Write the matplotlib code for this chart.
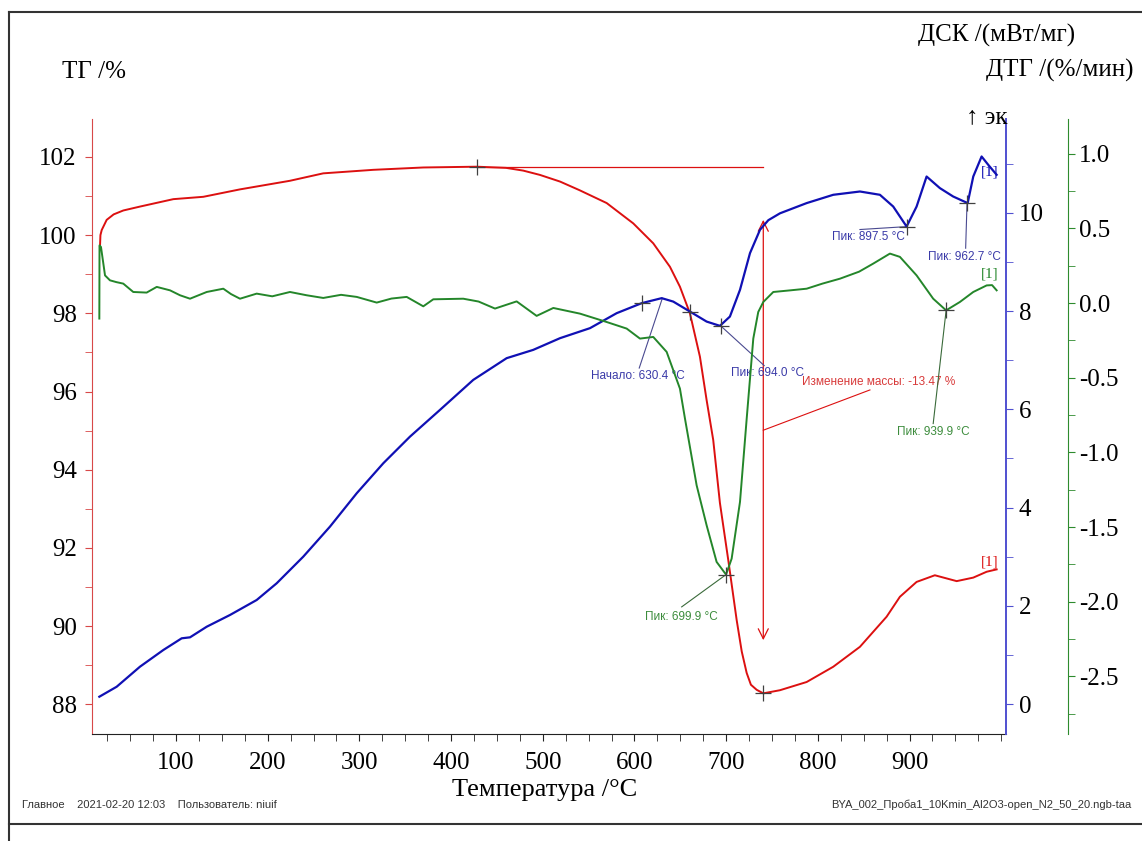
import matplotlib
matplotlib.use("Agg")
import matplotlib.pyplot as plt
from matplotlib.lines import Line2D
from matplotlib.ticker import MultipleLocator, FixedLocator, FormatStrFormatter

plt.rcParams.update({
    "axes.unicode_minus": False,
    "font.family": ["Liberation Serif", "DejaVu Serif"],
})

SERIF = ["Liberation Serif", "DejaVu Serif"]
NARROW = ["Liberation Sans Narrow", "Liberation Sans", "DejaVu Sans"]

RED = "#dc1010"
BLUE = "#1010b4"
GREEN = "#24862a"
RED_AX = "#d84848"
BLUE_AX = "#5050d0"
GREEN_AX = "#2e8b2e"

# --- TG (mass, %) ---
tg_temp = [17.1, 17.6, 19.0, 24.4, 32.0, 42.5, 60.7, 97.1, 129.8, 169.8,
           224.3, 260.6, 315.2, 369.7, 427.9, 460.0, 478.7, 496.9, 518.8,
           540.0, 569.7, 598.7, 620.5, 638.7, 649.6, 660.5, 671.4, 678.7,
           685.9, 693.2, 702.3, 711.5, 717.0, 722.4, 727.0, 733.3, 740.5,
           758.7, 787.8, 816.8, 845.9, 875.0, 889.5, 907.7, 927.6, 951.4,
           969.5, 984.1, 995.0]
tg_val = [99.70, 100.00, 100.13, 100.39, 100.53, 100.63, 100.73, 100.92,
          100.98, 101.17, 101.39, 101.58, 101.67, 101.73, 101.75, 101.72,
          101.65, 101.54, 101.37, 101.15, 100.82, 100.30, 99.79, 99.19,
          98.68, 98.00, 96.89, 95.78, 94.76, 93.15, 91.69, 90.15, 89.35,
          88.80, 88.50, 88.37, 88.28, 88.36, 88.57, 88.96, 89.47, 90.24,
          90.75, 91.13, 91.30, 91.15, 91.24, 91.39, 91.45]

# --- DSC (mW/mg) ---
dsc_temp = [16.4, 35.3, 60.7, 86.2, 106.2, 115.3, 133.5, 158.9, 188.0, 209.8,
            238.8, 267.9, 297.1, 326.1, 355.2, 387.9, 424.2, 460.6, 489.6,
            518.8, 551.5, 580.6, 607.9, 629.7, 642.3, 660.5, 678.7, 693.2,
            704.1, 715.1, 726.0, 736.9, 746.0, 758.7, 787.8, 816.8, 845.9,
            867.7, 882.2, 896.8, 907.7, 918.6, 933.1, 947.6, 963.4, 969.5,
            978.6, 985.8, 995.0]
dsc_val = [0.149, 0.352, 0.760, 1.100, 1.338, 1.358, 1.574, 1.813, 2.118,
           2.458, 3.000, 3.611, 4.291, 4.902, 5.444, 5.988, 6.599, 7.041,
           7.210, 7.448, 7.652, 7.957, 8.161, 8.263, 8.193, 7.990, 7.786,
           7.699, 7.888, 8.432, 9.179, 9.654, 9.850, 9.990, 10.198, 10.367,
           10.434, 10.367, 10.128, 9.721, 10.128, 10.739, 10.503, 10.332,
           10.198, 10.739, 11.147, 10.978, 10.774]

# --- DTG (%/min) ---
dtg_temp = [16.4, 16.6, 18.2, 22.6, 28.0, 35.0, 42.5, 53.4, 68.0, 79.0, 93.5,
            104.4, 115.3, 133.5, 151.6, 160.0, 169.8, 188.0, 205.0, 224.3,
            242.5, 260.6, 280.0, 297.1, 318.9, 335.0, 351.6, 369.7, 380.6,
            413.3, 430.0, 447.9, 471.5, 493.3, 511.5, 540.6, 569.7, 591.5,
            606.0, 620.5, 635.1, 649.6, 655.1, 667.8, 678.7, 689.6, 699.9,
            706.0, 715.1, 722.4, 729.6, 735.0, 740.5, 751.4, 770.0, 787.8,
            805.0, 824.1, 845.0, 860.4, 878.6, 889.5, 907.7, 925.8, 939.9,
            954.9, 969.5, 984.1, 990.0, 995.0]
dtg_val = [-0.104, 0.386, 0.375, 0.185, 0.152, 0.140, 0.130, 0.074, 0.070,
           0.108, 0.085, 0.052, 0.029, 0.074, 0.096, 0.060, 0.029, 0.063,
           0.045, 0.074, 0.052, 0.034, 0.055, 0.041, 0.003, 0.030, 0.041,
           -0.022, 0.025, 0.029, 0.010, -0.037, 0.011, -0.086, -0.033,
           -0.071, -0.127, -0.171, -0.238, -0.227, -0.327, -0.573, -0.774,
           -1.220, -1.488, -1.733, -1.818, -1.711, -1.331, -0.774, -0.238,
           -0.060, 0.007, 0.074, 0.085, 0.096, 0.130, 0.163, 0.210, 0.264,
           0.331, 0.309, 0.185, 0.029, -0.049, 0.007, 0.074, 0.118, 0.120,
           0.085]

tg_marks = [(427.9, 101.75), (740.5, 88.28)]
dsc_marks = [(607.9, 8.16), (660.5, 7.99), (694.0, 7.70), (897.5, 9.72), (962.7, 10.20)]
dtg_marks = [(699.9, -1.818), (939.9, -0.049)]

x_ticks = [100, 200, 300, 400, 500, 600, 700, 800, 900]

fig = plt.figure(figsize=(11.42, 8.41), dpi=100)
W, H = 1142, 841
ax = fig.add_axes([92 / W, 1 - 734 / H, (1006 - 92) / W, (734 - 119) / H])
ax2 = ax.twinx()
ax3 = ax.twinx()
for a in (ax, ax2, ax3):
    a.patch.set_visible(False)
    a.spines["top"].set_visible(False)

ax.spines["right"].set_visible(False)
ax.spines["left"].set_color(RED_AX)
ax.spines["bottom"].set_color("#222222")
ax2.spines["left"].set_visible(False)
ax2.spines["bottom"].set_visible(False)
ax2.spines["right"].set_color(BLUE_AX)
ax2.spines["right"].set_linewidth(1.4)
ax3.spines["left"].set_visible(False)
ax3.spines["bottom"].set_visible(False)
ax3.spines["right"].set_color(GREEN_AX)
ax3.spines["right"].set_position(("axes", 1.068))

ax.set_xlim(8.4, 1005.2)
ax.set_ylim(87.24, 102.97)
ax2.set_ylim(-0.61, 11.91)
ax3.set_ylim(-2.885, 1.232)

ax.xaxis.set_major_locator(FixedLocator(x_ticks))
ax.xaxis.set_minor_locator(MultipleLocator(25))
ax.yaxis.set_major_locator(MultipleLocator(2))
ax.yaxis.set_minor_locator(MultipleLocator(1))
ax2.yaxis.set_major_locator(MultipleLocator(2))
ax2.yaxis.set_minor_locator(MultipleLocator(1))
ax3.yaxis.set_major_locator(MultipleLocator(0.5))
ax3.yaxis.set_minor_locator(MultipleLocator(0.25))
ax3.yaxis.set_major_formatter(FormatStrFormatter("%.1f"))

ax.tick_params(axis="x", which="both", length=5, color="#222222",
               labelsize=18, pad=8)
ax.tick_params(axis="y", which="both", length=5, color=RED_AX,
               labelsize=18, pad=6)
ax2.tick_params(axis="y", which="both", length=5, color=BLUE_AX,
                labelsize=18, pad=4)
ax3.tick_params(axis="y", which="both", length=5, color=GREEN_AX,
                labelsize=18, pad=3)

ax.plot(tg_temp, tg_val, color=RED, lw=1.4, zorder=3)
ax2.plot(dsc_temp, dsc_val, color=BLUE, lw=1.6, zorder=3)
ax3.plot(dtg_temp, dtg_val, color=GREEN, lw=1.4, zorder=3)

mk = dict(marker="+", ms=12, mew=0.9, color="#404040", ls="none", zorder=5)
ax.plot([m[0] for m in tg_marks], [m[1] for m in tg_marks], **mk)
ax2.plot([m[0] for m in dsc_marks], [m[1] for m in dsc_marks], **mk)
ax3.plot([m[0] for m in dtg_marks], [m[1] for m in dtg_marks], **mk)

# mass change construction
ax.plot([427.9, 740.5], [101.75, 101.75], color=RED, lw=0.9)
ax.annotate("", xy=(740.5, 89.64), xytext=(740.5, 100.39),
            arrowprops=dict(arrowstyle="<->", color=RED, lw=0.9,
                            mutation_scale=18, shrinkA=0, shrinkB=0))
ax.plot([740.5, 856.8], [95.01, 96.04], color=RED, lw=0.8)
ax.text(866.6, 96.25, "Изменение массы: -13.47 %", color="#d83a3a",
        fontsize=8.5, family=NARROW, ha="center", va="center")

# DSC annotations
lead_b = dict(color="#4a4a90", lw=0.8)
ax2.plot([605.2, 630.4], [6.84, 8.26], **lead_b)
ax2.text(603.8, 6.67, "Начало: 630.4 °C", color="#3a3aa8", fontsize=8.5,
         family=NARROW, ha="center", va="center")
ax2.plot([694.0, 741.5], [7.70, 6.89], **lead_b)
ax2.text(745.6, 6.735, "Пик: 694.0 °C", color="#3a3aa8", fontsize=8.5,
         family=NARROW, ha="center", va="center")
ax2.plot([845.9, 897.5], [9.66, 9.72], **lead_b)
ax2.text(855.4, 9.517, "Пик: 897.5 °C", color="#3a3aa8", fontsize=8.5,
         family=NARROW, ha="center", va="center")
ax2.plot([961.2, 962.7], [9.28, 10.20], **lead_b)
ax2.text(959.9, 9.098, "Пик: 962.7 °C", color="#3a3aa8", fontsize=8.5,
         family=NARROW, ha="center", va="center")

# DTG annotations
lead_g = dict(color="#3a6a3a", lw=0.8)
ax3.plot([651.5, 699.9], [-2.034, -1.818], **lead_g)
ax3.text(650.7, -2.101, "Пик: 699.9 °C", color="#3c8c3c", fontsize=8.5,
         family=NARROW, ha="center", va="center")
ax3.plot([925.8, 939.9], [-0.807, -0.049], **lead_g)
ax3.text(925.5, -0.863, "Пик: 939.9 °C", color="#3c8c3c", fontsize=8.5,
         family=NARROW, ha="center", va="center")

# curve end tags
ax2.text(987.7, 10.83, "[1]", color=BLUE, fontsize=11, ha="center", va="center")
ax3.text(987.7, 0.197, "[1]", color=GREEN, fontsize=11, ha="center", va="center")
ax.text(987.7, 91.64, "[1]", color=RED, fontsize=11, ha="center", va="center")

# axis titles
fig.text(62 / W, 1 - 72 / H, "ТГ /%", fontsize=18, ha="left", va="center")
fig.text(1075 / W, 1 - 35 / H, "ДСК /(мВт/мг)", fontsize=18, ha="right",
         va="center")
fig.text(1134 / W, 1 - 70 / H, "ДТГ /(%/мин)", fontsize=18, ha="right",
         va="center")
fig.text(1007 / W, 1 - 117 / H, "↑ эк", fontsize=18, ha="right", va="center",
         family=SERIF)
fig.text(545 / W, 1 - 790 / H, "Температура /°C", fontsize=19, ha="center",
         va="center")

fig.text(22 / W, 1 - 805 / H,
         "Главное    2021-02-20 12:03    Пользователь: niuif",
         fontsize=8, family=NARROW, color="#333333", ha="left", va="center")
fig.text(1131 / W, 1 - 805 / H,
         "BYA_002_Проба1_10Kmin_Al2O3-open_N2_50_20.ngb-taa",
         fontsize=8, family=NARROW, color="#333333", ha="right", va="center")

# page frame
for xs, ys in [((9, W), (12, 12)), ((9, 9), (12, H)), ((9, W), (824, 824))]:
    fig.add_artist(Line2D([x / W for x in xs], [1 - y / H for y in ys],
                          color="#333333", lw=1.5))

fig.savefig("out.png", dpi=100)
